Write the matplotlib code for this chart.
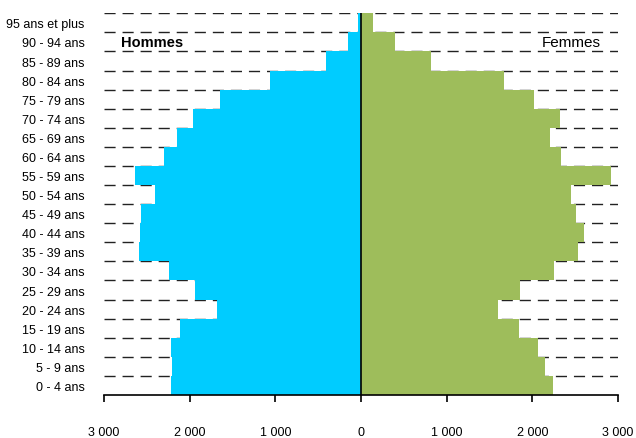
import numpy as np
import matplotlib.pyplot as plt
from matplotlib import font_manager

ages = ['0 - 4 ans', '5 - 9 ans', '10 - 14 ans', '15 - 19 ans', '20 - 24 ans',
        '25 - 29 ans', '30 - 34 ans', '35 - 39 ans', '40 - 44 ans', '45 - 49 ans',
        '50 - 54 ans', '55 - 59 ans', '60 - 64 ans', '65 - 69 ans', '70 - 74 ans',
        '75 - 79 ans', '80 - 84 ans', '85 - 89 ans', '90 - 94 ans', '95 ans et plus']
hommes = [2217, 2210, 2222, 2117, 1680, 1937, 2245, 2590, 2583, 2572,
          2408, 2634, 2303, 2147, 1965, 1650, 1066, 405, 152, 35]
femmes = [2240, 2147, 2069, 1844, 1599, 1859, 2256, 2532, 2606, 2504,
          2454, 2917, 2334, 2201, 2326, 2019, 1669, 812, 400, 140]
xticks = [-3000, -2000, -1000, 0, 1000, 2000, 3000]

# the original uses a narrow Arial-like font; use one if it is there
names = {f.name for f in font_manager.fontManager.ttflist}
if 'Liberation Sans Narrow' in names:
    fam, fs, fs_big = 'Liberation Sans Narrow', 10, 13
else:
    fam, fs, fs_big = 'Liberation Sans', 9, 11
plt.rcParams['font.family'] = [fam, 'DejaVu Sans']

fig = plt.figure(figsize=(6.36, 4.39), dpi=100)
ax = fig.add_axes([104/636, 1-396/439, (618-104)/636, (396-14.3)/439])

y = np.arange(len(ages))
# dashed grid between the age bands, behind the bars
ax.hlines(y + 0.5, -3000, 3000, colors='#222222', linewidth=1, linestyles=(0, (8, 5)), zorder=1)
ax.barh(y, [-v for v in hommes], height=1.0, color='#00CCFF', zorder=2)
ax.barh(y, femmes, height=1.0, color='#9EBD5B', zorder=2)
ax.axvline(0, color='black', linewidth=1.2, zorder=3)

ax.set_xlim(-3000, 3000)
ax.set_ylim(-0.5, len(ages) - 0.5)
ax.set_xticks(xticks)
ax.set_xticklabels([f'{abs(t):,}'.replace(',', ' ') for t in xticks], fontsize=fs)
ax.tick_params(axis='x', direction='out', length=5, width=1.2, pad=17.5, color='black')
ax.set_yticks(y)
ax.set_yticklabels(ages, fontsize=fs)
ax.tick_params(axis='y', length=0, pad=14)

for s in ['top', 'left', 'right']:
    ax.spines[s].set_visible(False)
ax.spines['bottom'].set_linewidth(1.2)

ax.text(-2800, 18, 'Hommes', fontsize=fs_big - 0.5, fontweight='bold', va='center', ha='left')
ax.text(2800, 18, 'Femmes', fontsize=fs_big, va='center', ha='right')

fig.savefig('out.png', dpi=100)
